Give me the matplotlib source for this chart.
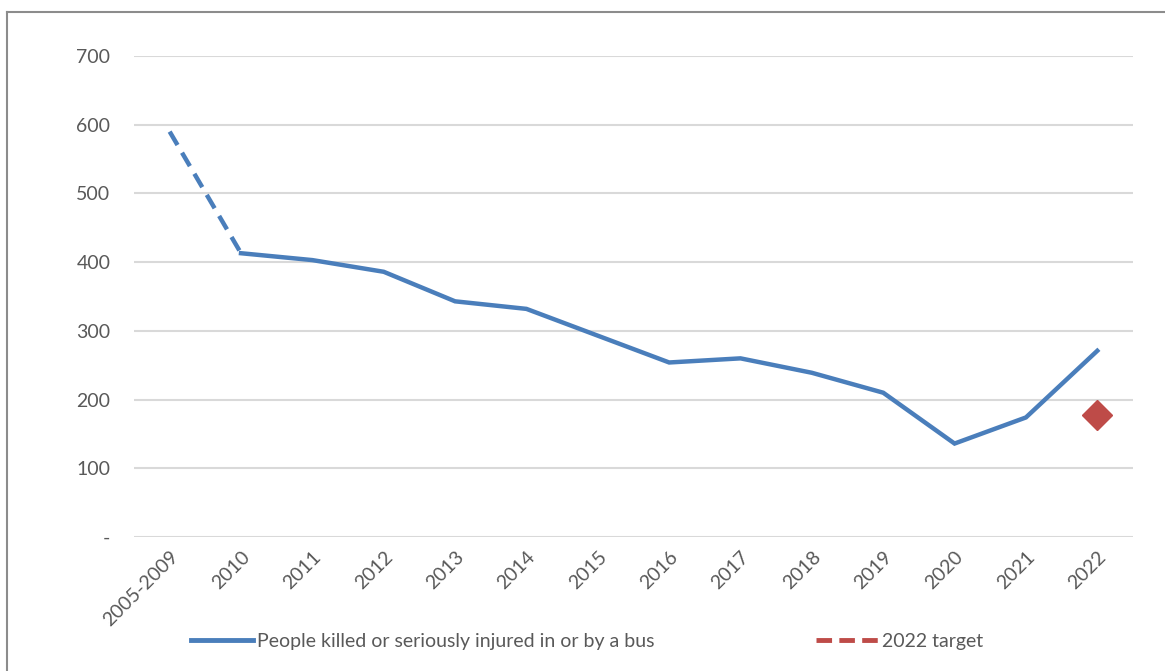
import matplotlib
matplotlib.use('Agg')
import matplotlib.pyplot as plt
from matplotlib.lines import Line2D

plt.rcParams['font.family'] = ['Lato', 'DejaVu Sans']

# Data
categories = ['2005-2009', '2010', '2011', '2012', '2013', '2014', '2015',
              '2016', '2017', '2018', '2019', '2020', '2021', '2022']
ksi = [590, 413, 403, 386, 343, 332, 293, 254, 260, 239, 210, 136, 174, 271]
target_year = '2022'
target_value = 178
yticks = [0, 100, 200, 300, 400, 500, 600, 700]
ytick_labels = ['-', '100', '200', '300', '400', '500', '600', '700']

blue = '#4a7ebb'
red = '#be4b48'
txt = '#595959'

fig = plt.figure(figsize=(11.65, 6.71), dpi=100)
ax = fig.add_axes([0.115, 0.1997, 0.8575, 0.7168])

x = list(range(len(categories)))
# baseline period joined with a dashed line, yearly values solid
ax.plot(x[:2], ksi[:2], color=blue, lw=3.2, ls=(0, (3.5, 2)))
ax.plot(x[1:], ksi[1:], color=blue, lw=3.2, solid_joinstyle='miter')
ax.plot(categories.index(target_year), target_value, marker='D', ms=15,
        color=red, ls='none')

ax.set_xlim(-0.5, len(categories) - 0.5)
ax.set_ylim(0, 700)
ax.set_yticks(yticks)
ax.set_yticklabels(ytick_labels)
ax.set_xticks(x)
ax.set_xticklabels(categories, rotation=45, ha='right', rotation_mode='anchor')
ax.tick_params(axis='both', length=0, labelsize=14, colors=txt)
ax.tick_params(axis='y', pad=17)
ax.tick_params(axis='x', pad=8)
ax.grid(axis='y', color='#d9d9d9', lw=1.5)
ax.set_axisbelow(True)
for s in ax.spines.values():
    s.set_visible(False)

handles = [Line2D([], [], color=blue, lw=3.5),
           Line2D([], [], color=red, lw=3.5, ls=(0, (3.2, 1.5)))]
fig.legend(handles[:1], ['People killed or seriously injured in or by a bus'],
           loc='center left', bbox_to_anchor=(0.1485, 0.044), frameon=False,
           fontsize=14, labelcolor=txt, handlelength=3.2, handletextpad=0.2)
fig.legend(handles[1:], ['2022 target'],
           loc='center left', bbox_to_anchor=(0.685, 0.044), frameon=False,
           fontsize=14, labelcolor=txt, handlelength=3.2, handletextpad=0.2)

# grey frame on top and left edges
fig.add_artist(Line2D([7 / 1165, 7 / 1165], [0, 1 - 12 / 671], color='#8c8c8c', lw=1.5))
fig.add_artist(Line2D([7 / 1165, 1], [1 - 12 / 671, 1 - 12 / 671], color='#8c8c8c', lw=1.5))

plt.savefig('out.png', dpi=100)
